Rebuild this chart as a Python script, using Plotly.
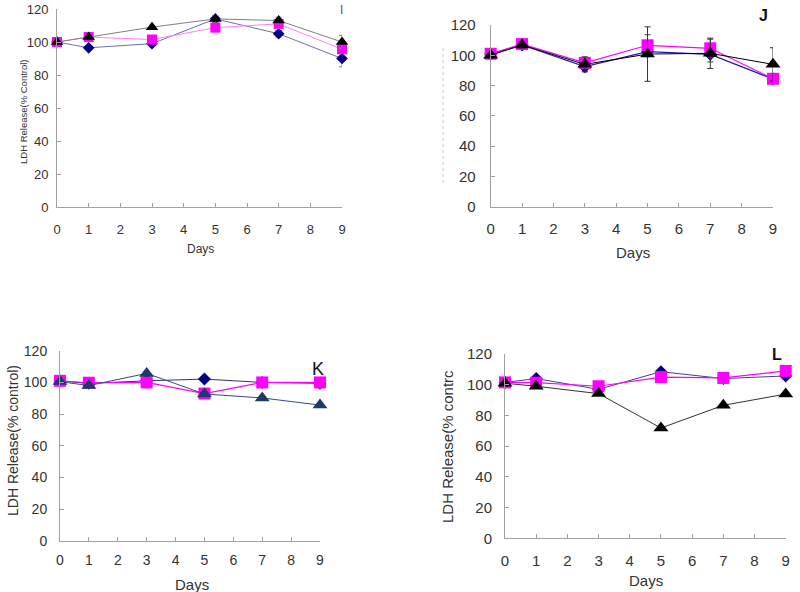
import plotly.graph_objects as go

days = [0, 1, 3, 5, 7, 9]

# Panel I
i_diamond = [100, 96.5, 99, 114, 105, 90]
i_square = [100, 103, 101.5, 108.7, 111, 95.6]
i_triangle = [100, 103, 109, 114, 113, 100]
i_diamond_err = [1, 1, 1, 2, 2, 5]
i_square_err = [1, 1, 1, 2, 2, 2]
i_triangle_err = [1, 1, 1, 2, 2, 4]

# Panel J
j_diamond = [100.8, 106.8, 92.5, 102.4, 100.6, 84.3]
j_square = [101, 107.4, 95, 106.6, 104.6, 84.5]
j_triangle = [100, 106.8, 94, 100.8, 101.3, 94]
j_diamond_err = [1, 2, 3, 3, 5, 3]
j_square_err = [1, 2, 3, 7, 6, 3]
j_triangle_err = [1, 2, 5, 18, 10, 11]

# Panel K
k_diamond = [100.9, 99.4, 101, 102.1, 100, 99.4]
k_square = [101, 99.8, 100, 93, 100, 100]
k_triangle = [100.5, 98, 105.7, 92.7, 90.2, 85.7]

# Panel L
l_diamond = [101.5, 104, 97, 108.5, 104, 105.7]
l_square = [101.5, 101.3, 99, 105, 104.4, 109]
l_triangle = [101, 99, 94.2, 71.8, 86.6, 93.9]

x_ticks = list(range(10))
y_ticks = [0, 20, 40, 60, 80, 100, 120]

W, H = 800, 592
FONT = "Liberation Sans, Arial, sans-serif"
TXT = "#333333"

# panel geometry in pixels: x0, x1, ybottom, ytop
panels = {
    "I": (57, 342, 207, 9),
    "J": (490.7, 773, 206.7, 25),
    "K": (60, 320, 541, 350.7),
    "L": (505, 785.7, 538.3, 354),
}

fig = go.Figure()


def add_series(ax, y, color, line_color, symbol, size, lw, err=None, err_color=None):
    t = dict(x=days, y=y, mode="lines+markers",
             line=dict(color=line_color, width=lw),
             marker=dict(symbol=symbol, color=color, size=size),
             xaxis="x" + ax, yaxis="y" + ax, showlegend=False, cliponaxis=False)
    if err is not None:
        t["error_y"] = dict(type="data", array=err, visible=True,
                            color=err_color or "#555555", thickness=1, width=3)
    fig.add_trace(go.Scatter(**t))


# Panel I (axes 1)
add_series("", i_diamond, "#000080", "#7070a8", "diamond", 9, 1, i_diamond_err, "#808080")
add_series("", i_square, "#ff00ff", "#ff80ff", "square", 10, 1, i_square_err, "#808080")
add_series("", i_triangle, "#000000", "#808080", "triangle-up", 11, 1, i_triangle_err, "#808080")
# Panel J (axes 2)
add_series("2", j_diamond, "#000080", "#2020a0", "diamond", 10, 1.2, j_diamond_err, "#444444")
add_series("2", j_square, "#ff00ff", "#ff00ff", "square", 12, 1.2, j_square_err, "#444444")
add_series("2", j_triangle, "#000000", "#000000", "triangle-up", 13, 1, j_triangle_err, "#333333")
# Panel K (axes 3)
add_series("3", k_diamond, "#000080", "#303080", "diamond", 10, 1)
add_series("3", k_square, "#ff00ff", "#ff00ff", "square", 12, 1.2)
add_series("3", k_triangle, "#1f3a68", "#3a4a80", "triangle-up", 13, 1)
# Panel L (axes 4)
add_series("4", l_diamond, "#000080", "#404090", "diamond", 10, 1)
add_series("4", l_square, "#ff00ff", "#ff00ff", "square", 12, 1.2)
add_series("4", l_triangle, "#000000", "#333333", "triangle-up", 13, 1)

layout = dict(width=W, height=H, autosize=False,
              margin=dict(l=0, r=0, t=0, b=0, pad=0, autoexpand=False),
              paper_bgcolor="white", plot_bgcolor="white",
              font=dict(family=FONT, color=TXT))

specs = [
    ("", "I", 13, 5, 10),
    ("2", "J", 15, 11, 8),
    ("3", "K", 14, 9, 6),
    ("4", "L", 15, 9, 9),
]
for suf, key, tfs, ystand, xstand in specs:
    x0, x1, yb, yt = panels[key]
    common = dict(showline=True, linecolor="#a0a0a0", linewidth=1, showgrid=False,
                  zeroline=False, ticks="inside", ticklen=4, tickcolor="#a0a0a0",
                  automargin=False,
                  tickfont=dict(size=tfs, color=TXT, family=FONT))
    layout["xaxis" + suf] = dict(common, domain=[x0 / W, x1 / W], range=[0, 9],
                                 tickvals=x_ticks, anchor="y" + suf,
                                 ticklabelstandoff=xstand)
    layout["yaxis" + suf] = dict(common, domain=[1 - yb / H, 1 - yt / H], range=[0, 120],
                                 tickvals=y_ticks, anchor="x" + suf,
                                 ticklabelstandoff=ystand)

fig.update_layout(**layout)


def px_text(x, y, text, size, angle=0, color=TXT):
    fig.add_annotation(x=x / W, y=1 - y / H, xref="paper", yref="paper", text=text,
                       showarrow=False, textangle=angle, xanchor="center", yanchor="middle",
                       font=dict(size=size, color=color, family=FONT))


# axis titles
px_text(200, 249, "Days", 12)
px_text(633, 252, "Days", 15)
px_text(192, 584, "Days", 15)
px_text(646, 580, "Days", 15)
px_text(23, 112, "LDH Release(% Control)", 9.5, -90)
px_text(13, 441, "LDH Release(% control)", 14, -90)
px_text(447, 447, "LDH Release(% contrc", 15, -90)
# panel letters
px_text(341, 10, "I", 12, color="#555555")
px_text(763, 16, "<b>J</b>", 16, color="#111111")
px_text(318, 369, "K", 18, color="#111111")
px_text(777, 354, "<b>L</b>", 16, color="#111111")

# faint cropped-title remnant in panel J
fig.add_shape(type="line", xref="paper", yref="paper", x0=443 / W, x1=443 / W,
              y0=1 - 183 / H, y1=1 - 45 / H,
              line=dict(color="#c8c8c8", width=1, dash="dot"))

fig.write_html("out.html", config={"displayModeBar": False},
               post_script="document.body.style.margin='0px';document.body.style.overflow='hidden';")
